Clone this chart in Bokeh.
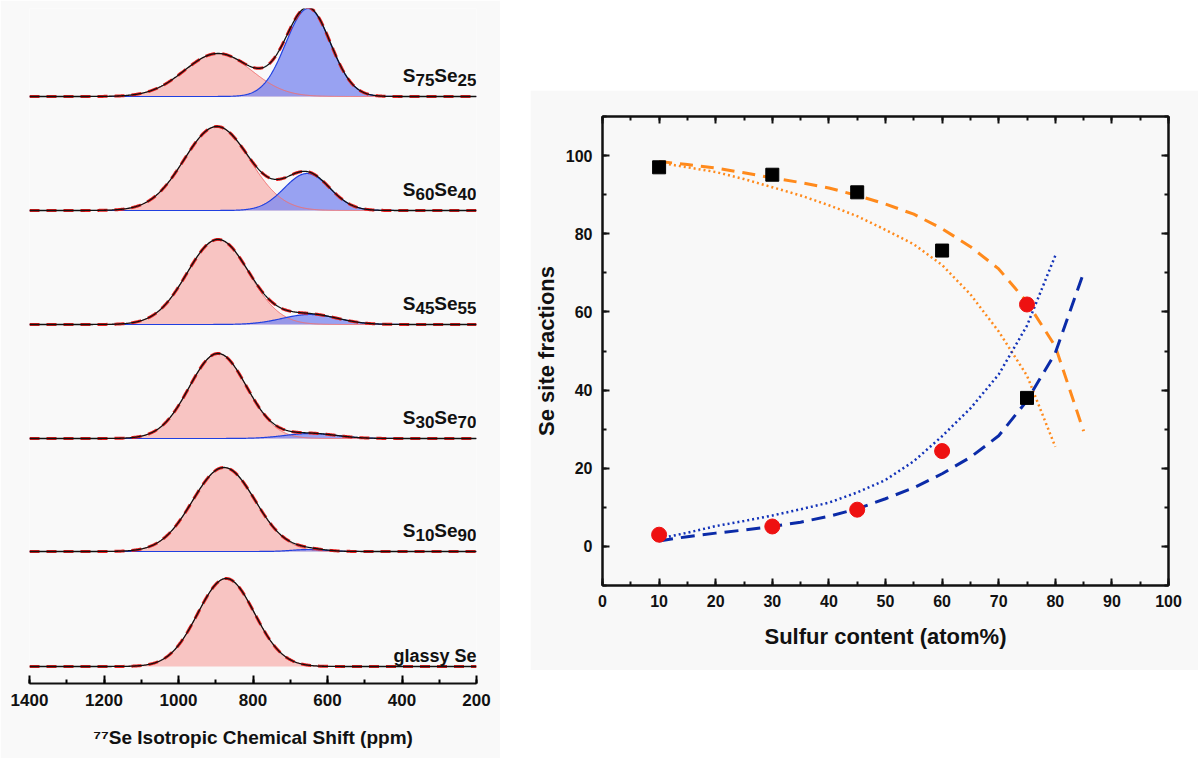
import numpy as np
from bokeh.plotting import figure
from bokeh.models import Range1d, LinearAxis, SingleIntervalTicker, Spacer, CustomLabelingPolicy
from bokeh.layouts import row, column
from bokeh.embed import file_html
from bokeh.resources import INLINE
from bokeh.core.properties import value

# ---------------- Left panel: 77Se NMR spectra (Gaussian fit components)
sample_labels = [
    [("glassy Se", False)],
    [("S", False), ("10", True), ("Se", False), ("90", True)],
    [("S", False), ("30", True), ("Se", False), ("70", True)],
    [("S", False), ("45", True), ("Se", False), ("55", True)],
    [("S", False), ("60", True), ("Se", False), ("40", True)],
    [("S", False), ("75", True), ("Se", False), ("25", True)],
]
baseline_offset = [17, 132, 245, 359, 473, 587]       # vertical stacking offsets
pink_center = [872, 878, 894, 894, 897, 894]          # ppm
pink_height = [88, 84, 85, 85, 84, 43]
pink_sigma = [76, 84, 77, 83, 88, 90]
blue_center = [650, 650, 645, 647, 655, 652]          # ppm
blue_height = [0, 2, 5, 10, 37, 88]
blue_sigma = [60, 45, 70, 75, 61, 60]

# ---------------- Right panel: Se site fractions
sulfur = [10, 30, 45, 60, 75]
frac_squares = [97.0, 95.1, 90.6, 75.7, 38.0]
frac_circles = [3.0, 5.1, 9.4, 24.4, 61.9]

curve_x = [10, 15, 20, 25, 30, 35, 40, 45, 50, 55, 60, 65, 70, 75, 80, 85]
orange_dashed = [98.5, 97.7, 96.8, 95.6, 94.3, 93.1, 91.7, 89.8, 87.6, 85.0, 81.3, 76.7, 71.0, 62.5, 51.2, 29.5]
blue_dashed = [1.4, 2.5, 3.4, 4.2, 5.1, 6.2, 7.7, 9.6, 12.2, 15.0, 18.6, 22.8, 28.3, 37.3, 49.5, 70.0]
curve_x_dot = [10, 15, 20, 25, 30, 35, 40, 45, 50, 55, 60, 65, 70, 75, 80]
orange_dotted = [98.2, 97.0, 95.8, 94.0, 91.9, 89.8, 87.3, 84.5, 81.0, 77.3, 72.0, 64.5, 55.0, 43.7, 25.5]
blue_dotted = [2.0, 3.5, 5.2, 6.5, 7.9, 9.5, 11.2, 13.8, 17.0, 21.8, 28.2, 35.3, 44.0, 56.5, 74.4]

FONT = "Liberation Sans"
BG = "#f9f9f9"

# ======== left figure
p1 = figure(width=500, height=758, x_range=Range1d(1400, 200), y_range=Range1d(0, 675),
            output_backend="svg", toolbar_location=None, x_axis_type=None, y_axis_type=None,
            min_border_left=29, min_border_right=24, min_border_top=8, min_border_bottom=75,
            background_fill_color=BG, border_fill_color=BG, outline_line_color=None)

ppm = np.linspace(1400, 200, 700)
for i in range(len(baseline_offset)):
    b = baseline_offset[i]
    pk = pink_height[i] * np.exp(-0.5 * ((ppm - pink_center[i]) / pink_sigma[i]) ** 2)
    bl = blue_height[i] * np.exp(-0.5 * ((ppm - blue_center[i]) / blue_sigma[i]) ** 2)
    base = np.full_like(ppm, b, dtype=float)
    p1.varea(x=ppm, y1=base, y2=b + pk, fill_color="#f8c4c2", fill_alpha=1.0)
    if blue_height[i] > 0:
        p1.varea(x=ppm, y1=base, y2=b + bl, fill_color="#7f8cf0", fill_alpha=0.8)
    p1.line(ppm, b + pk, line_color="#f07070", line_width=1)
    if blue_height[i] > 0:
        p1.line(ppm, b + bl, line_color="#2040e0", line_width=1.2)
    tot = b + pk + bl
    p1.line(ppm, tot, line_color="#e81c1c", line_width=3, line_dash="10 7")
    p1.line(ppm, tot, line_color="#111111", line_width=1.3)

# labels (built from text segments; Arial-bold advance widths for placement)
adv = {"S": 0.667, "e": 0.556, "g": 0.611, "l": 0.278, "a": 0.556, "s": 0.556, "y": 0.556, " ": 0.278}
for i, segs in enumerate(sample_labels):
    glassy = len(segs) == 1
    main_fs = 18 if glassy else 19
    sub_fs = 17
    widths = []
    for t, sub in segs:
        fs = sub_fs if sub else main_fs
        widths.append(sum(adv.get(c, 0.556) for c in t) * fs)
    total = sum(widths)
    cum = 0.0
    ylab = baseline_offset[i] + (11 if glassy else 21)
    for (t, sub), w in zip(segs, widths):
        p1.text(x=[200], y=[ylab], text=[t], text_align="left", text_baseline="alphabetic",
                x_offset=-(total - cum), y_offset=(4 if sub else 0),
                text_font=value(FONT), text_font_style="bold",
                text_font_size=f"{sub_fs if sub else main_fs}px", text_color="#111111")
        cum += w

ax1 = LinearAxis(ticker=SingleIntervalTicker(interval=200, num_minor_ticks=2),
                 axis_label="\u2077\u2077Se Isotropic Chemical Shift (ppm)")
ax1.axis_line_width = 2
ax1.axis_line_color = "#111111"
ax1.major_tick_in = 8
ax1.major_tick_out = 0
ax1.minor_tick_in = 4
ax1.minor_tick_out = 0
ax1.major_tick_line_width = 2
ax1.minor_tick_line_width = 2
ax1.major_label_standoff = 10
ax1.major_label_text_font = FONT
ax1.major_label_text_font_style = "bold"
ax1.major_label_text_font_size = "17px"
ax1.major_label_text_color = "#111111"
ax1.axis_label_standoff = 18
ax1.axis_label_text_font = FONT
ax1.axis_label_text_font_style = "bold"
ax1.axis_label_text_font_size = "19px"
ax1.axis_label_text_color = "#111111"
p1.add_layout(ax1, "below")

# ======== right figure
p2 = figure(width=668, height=580, x_range=Range1d(0, 100), y_range=Range1d(-10, 110),
            output_backend="svg", toolbar_location=None, x_axis_type=None, y_axis_type=None,
            min_border_left=66, min_border_right=23, min_border_top=26, min_border_bottom=85,
            background_fill_color="#f8f8f8", border_fill_color="#f8f8f8",
            outline_line_color="#111111", outline_line_width=2)

p2.line(curve_x_dot, orange_dotted, line_color="#ff8a1c", line_width=2.5, line_dash="2 3")
p2.line(curve_x_dot, blue_dotted, line_color="#1232b8", line_width=2.5, line_dash="2 3")
p2.line(curve_x, orange_dashed, line_color="#ff8a1c", line_width=3, line_dash="13 8")
p2.line(curve_x, blue_dashed, line_color="#0b2ba8", line_width=3, line_dash="14 8")
p2.scatter(sulfur, frac_squares, marker="square", size=13, fill_color="#000000", line_color="#000000")
p2.scatter(sulfur, frac_circles, marker="circle", size=15, fill_color="#ee1111", line_color="#ee1111")


def style(ax, show_labels):
    ax.axis_line_width = 2
    ax.axis_line_color = "#111111"
    ax.major_tick_in = 7
    ax.major_tick_out = 0
    ax.minor_tick_in = 4
    ax.minor_tick_out = 0
    ax.major_tick_line_width = 2
    ax.minor_tick_line_width = 2
    ax.major_tick_line_color = "#111111"
    ax.minor_tick_line_color = "#111111"
    ax.major_label_text_font = FONT
    ax.major_label_text_font_style = "bold"
    ax.major_label_text_color = "#111111"
    ax.major_label_text_font_size = "16px"
    ax.axis_label_text_font = FONT
    ax.axis_label_text_font_style = "bold"
    ax.axis_label_text_font_size = "22px"
    ax.axis_label_text_color = "#111111"
    if show_labels:
        ax.major_label_standoff = 9
    else:
        ax.major_label_policy = CustomLabelingPolicy(
            code="for (const i of indices) { if (i < 0) { yield i } }")
        ax.major_label_standoff = 0


xb = LinearAxis(ticker=SingleIntervalTicker(interval=10, num_minor_ticks=2), axis_label="Sulfur content (atom%)")
style(xb, True)
xb.axis_label_standoff = 14
yl = LinearAxis(ticker=SingleIntervalTicker(interval=20, num_minor_ticks=2), axis_label="Se site fractions")
style(yl, True)
yl.major_label_standoff = 10
yl.axis_label_standoff = 4
xt = LinearAxis(ticker=SingleIntervalTicker(interval=10, num_minor_ticks=2))
style(xt, False)
yr = LinearAxis(ticker=SingleIntervalTicker(interval=20, num_minor_ticks=2))
style(yr, False)
p2.add_layout(xb, "below")
p2.add_layout(yl, "left")
p2.add_layout(xt, "above")
p2.add_layout(yr, "right")

layout = row(p1, Spacer(width=30), column(Spacer(height=90), p2))
open("out.html", "w").write(file_html(layout, INLINE))
